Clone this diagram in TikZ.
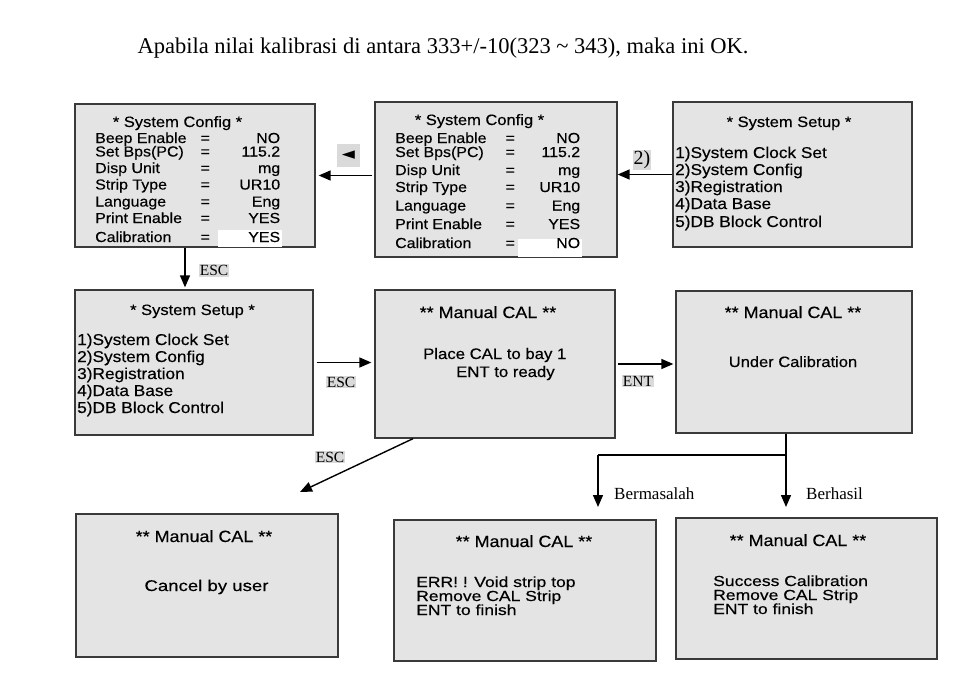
\documentclass[tikz,border=0pt]{standalone}
\usepackage{fontspec}
\setmainfont{Liberation Serif}
\newfontfamily\lcd[FakeStretch=1.1,FakeBold=0.4]{Liberation Sans}
\newfontfamily\lcdw[FakeStretch=1.2,FakeBold=0.4]{Liberation Sans}
\newfontfamily\symf{DejaVu Sans}
\usetikzlibrary{arrows.meta}
\definecolor{boxfill}{HTML}{E4E4E4}
\definecolor{boxline}{HTML}{3A3A3A}
\definecolor{lblbg}{HTML}{DADADA}
\tikzset{
  screen/.style={draw=boxline, fill=boxfill, line width=1.3pt, rectangle, inner sep=0pt},
  arr/.style={line width=1.4pt, -{Triangle[length=12pt,width=10pt]}},
  ln/.style={line width=1.4pt},
  cfgtxt/.style={inner sep=0pt, anchor=base west, font=\lcd\fontsize{14.5}{15}\selectfont},
  menutxt/.style={inner sep=0pt, anchor=base west, font=\lcd\fontsize{15.7}{16}\selectfont},
  ttlA/.style={inner sep=0pt, anchor=base, font=\lcd\fontsize{15}{16}\selectfont},
  ttlB/.style={inner sep=0pt, anchor=base, font=\lcd\fontsize{16.3}{17}\selectfont},
  msg/.style={inner sep=0pt, anchor=base, font=\lcd\fontsize{15}{16}\selectfont},
  msgw/.style={inner sep=0pt, anchor=base west, font=\lcdw\fontsize{14.6}{15}\selectfont},
  keylbl/.style={fill=lblbg, inner sep=1.2pt, font=\fontsize{15.5}{16}\selectfont},
  plainlbl/.style={inner sep=0pt, anchor=west, font=\fontsize{17}{18}\selectfont},
  hilite/.style={fill=white, inner sep=0pt, anchor=north west, minimum width=64pt, minimum height=17pt},
}
\newcommand\cfgrowA[2]{\makebox[105pt][l]{#1}\makebox[10pt][c]{=}\makebox[70pt][r]{#2}}
\newcommand\cfgrowB[2]{\makebox[110pt][l]{#1}\makebox[10pt][c]{=}\makebox[65pt][r]{#2}}
\begin{document}
\begin{tikzpicture}[x=1pt,y=-1pt]
\useasboundingbox (0,0) rectangle (975,696);

% title
\node[font=\fontsize{22.5}{24}\selectfont, inner sep=0pt] (title) at (443,48)
  {Apabila nilai kalibrasi di antara 333+/-10(323 \textasciitilde{} 343), maka ini OK.};

% ---------- screens ----------
\node[screen, minimum width=240pt, minimum height=143pt] (cfgA) at (195,175.5) {};
\node[screen, minimum width=242pt, minimum height=155pt] (cfgB) at (496,179.5) {};
\node[screen, minimum width=239pt, minimum height=145pt] (setupA) at (792.5,174.5) {};
\node[screen, minimum width=238pt, minimum height=145pt] (setupB) at (194,362.5) {};
\node[screen, minimum width=240pt, minimum height=148pt] (calA) at (495,364) {};
\node[screen, minimum width=236pt, minimum height=142pt] (calB) at (794,362) {};
\node[screen, minimum width=262pt, minimum height=143pt] (cancel) at (207,585.5) {};
\node[screen, minimum width=262pt, minimum height=141pt] (errbox) at (525,590.5) {};
\node[screen, minimum width=261pt, minimum height=141pt] (okbox) at (806.5,588.5) {};

% config A (Calibration = YES)
\node[hilite] (hlA) at (218,229.5) {};
\node[ttlA] (cA0) at (177.5,127) {* System Config *};
\node[cfgtxt] (cA1) at (95,143) {\cfgrowA{Beep Enable}{NO}};
\node[cfgtxt] (cA2) at (95,156.5) {\cfgrowA{Set Bps(PC)}{115.2}};
\node[cfgtxt] (cA3) at (95,173) {\cfgrowA{Disp Unit}{mg}};
\node[cfgtxt] (cA4) at (95,189.5) {\cfgrowA{Strip Type}{UR10}};
\node[cfgtxt] (cA5) at (95,206.5) {\cfgrowA{Language}{Eng}};
\node[cfgtxt] (cA6) at (95,223) {\cfgrowA{Print Enable}{YES}};
\node[cfgtxt] (cA7) at (95,242) {\cfgrowA{Calibration}{YES}};

% config B (Calibration = NO)
\node[hilite, minimum height=18pt] (hlB) at (518,239) {};
\node[ttlA] (cB0) at (479.5,125) {* System Config *};
\node[cfgtxt] (cB1) at (395,143) {\cfgrowB{Beep Enable}{NO}};
\node[cfgtxt] (cB2) at (395,157) {\cfgrowB{Set Bps(PC)}{115.2}};
\node[cfgtxt] (cB3) at (395,175) {\cfgrowB{Disp Unit}{mg}};
\node[cfgtxt] (cB4) at (395,192) {\cfgrowB{Strip Type}{UR10}};
\node[cfgtxt] (cB5) at (395,210.5) {\cfgrowB{Language}{Eng}};
\node[cfgtxt] (cB6) at (395,229) {\cfgrowB{Print Enable}{YES}};
\node[cfgtxt] (cB7) at (395,248) {\cfgrowB{Calibration}{NO}};

% system setup A (top right)
\node[ttlA] (sA0) at (789,127) {* System Setup *};
\node[menutxt] (sA1) at (675,158) {1)System Clock Set};
\node[menutxt] (sA2) at (675,175) {2)System Config};
\node[menutxt] (sA3) at (675,192) {3)Registration};
\node[menutxt] (sA4) at (675,209) {4)Data Base};
\node[menutxt] (sA5) at (675,227) {5)DB Block Control};

% system setup B (middle left)
\node[ttlA] (sB0) at (192.5,315) {* System Setup *};
\node[menutxt] (sB1) at (77,345) {1)System Clock Set};
\node[menutxt] (sB2) at (77,362) {2)System Config};
\node[menutxt] (sB3) at (77,379) {3)Registration};
\node[menutxt] (sB4) at (77,396) {4)Data Base};
\node[menutxt] (sB5) at (77,413) {5)DB Block Control};

% manual CAL screens
\node[ttlB] (mA0) at (488,318) {** Manual CAL **};
\node[msgw, font=\lcd\fontsize{15.2}{16}\selectfont] (mA1) at (423,359) {Place CAL to bay 1};
\node[msgw, font=\lcd\fontsize{15.2}{16}\selectfont] (mA2) at (456,377) {ENT to ready};

\node[ttlB] (mB0) at (793,318) {** Manual CAL **};
\node[msg] (mB1) at (793,367) {Under Calibration};

\node[ttlB] (mC0) at (204,542) {** Manual CAL **};
\node[msg, font=\lcdw\fontsize{15.5}{16}\selectfont] (mC1) at (206.5,591) {Cancel by user};

\node[ttlB] (mD0) at (524,547) {** Manual CAL **};
\node[msgw] (mD1) at (416,587) {ERR! ! Void strip top};
\node[msgw] (mD2) at (416,601) {Remove CAL Strip};
\node[msgw] (mD3) at (416,615) {ENT to finish};

\node[ttlB] (mE0) at (798,546) {** Manual CAL **};
\node[msgw] (mE1) at (713,586) {Success Calibration};
\node[msgw] (mE2) at (713,600) {Remove CAL Strip};
\node[msgw] (mE3) at (713,614) {ENT to finish};

% ---------- connectors ----------
\draw[arr] (setupA.west) -- (setupA.west -| cfgB.east);
\draw[arr, shorten <=2pt, shorten >=3pt] (cfgB.west |- cfgA.east) -- (cfgA.east);
\coordinate (d1) at ([xshift=-10pt]cfgA.south);
\coordinate (d2) at (d1 |- setupB.north);
\draw[arr, shorten >=2pt] (d1) -- (d2);
\draw[arr, shorten <=3pt, shorten >=3pt] (setupB.east) -- (setupB.east -| calA.west);
\draw[arr, shorten <=2pt, shorten >=2pt] (calA.east) -- (calA.east -| calB.west);
\coordinate (e1) at ([xshift=-82pt]calA.south);
\coordinate (e2) at (300,492);
\draw[arr] (e1) -- (e2);
\coordinate (yline) at (0,455);
\coordinate (ytip) at (0,507);
\coordinate (s0) at ([xshift=-8pt]calB.south);
\coordinate (s1) at (s0 |- yline);
\coordinate (sL) at (598,455);
\draw[ln] (s0) -- (s1) -- (sL);
\draw[arr] (sL) -- (sL |- ytip);
\draw[arr] (s1) -- (s1 |- ytip);

% ---------- labels ----------
\node[fill=lblbg, inner sep=0pt, minimum width=23pt, minimum height=23pt, font=\symf\fontsize{17}{17}\selectfont] (tri) at (348.5,155.5) {◄};
\node[keylbl, font=\fontsize{20}{20}\selectfont, inner sep=1pt] (two) at (642,160) {2)};
\node[keylbl] (esc1) at (214,270.5) {ESC};
\node[keylbl] (esc2) at (341,382) {ESC};
\node[keylbl] (ent) at (638,381) {ENT};
\node[keylbl] (esc3) at (330,457) {ESC};
\node[plainlbl] (bad) at (614,494) {Bermasalah};
\node[plainlbl] (good) at (806,494) {Berhasil};
\end{tikzpicture}
\end{document}
